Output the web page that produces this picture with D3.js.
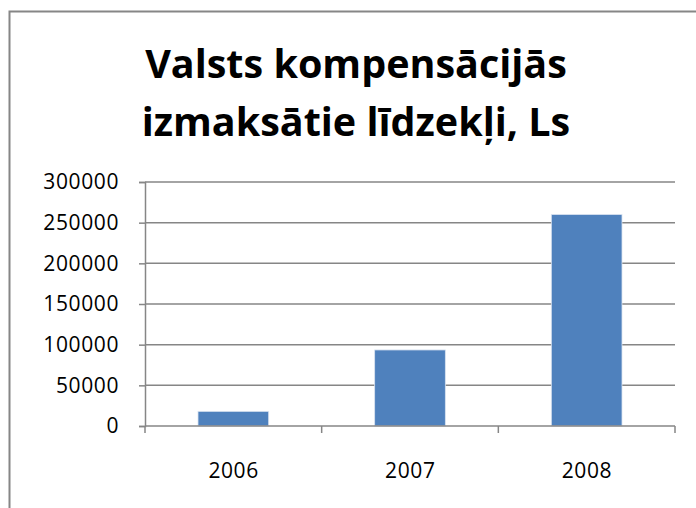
<!DOCTYPE html>
<html>
<head>
<meta charset="utf-8">
<script src="https://cdn.jsdelivr.net/npm/d3@7"></script>
<style>
  body { margin: 0; background: #fff; }
  svg { display: block; }
</style>
</head>
<body>
<div id="chart"></div>
<script>
// chart data
var titleLines = ["Valsts kompensācijās", "izmaksātie līdzekļi, Ls"];
var years = ["2006", "2007", "2008"];
var amounts = [18000, 93500, 260000];
var yTicks = [0, 50000, 100000, 150000, 200000, 250000, 300000];

var W = 696, H = 508;
var margin = {top: 182, right: 21, bottom: 82, left: 145};
var width = W - margin.left - margin.right,
    height = H - margin.top - margin.bottom;

var grey = "#868686";
var labelFont = "'Open Sans', sans-serif";

var svg = d3.select("#chart").append("svg")
    .attr("width", W)
    .attr("height", H);

// outer frame (runs off the right and bottom edge like the source)
svg.append("rect")
    .attr("x", 9.5)
    .attr("y", 11.5)
    .attr("width", W + 20)
    .attr("height", H + 20)
    .attr("fill", "none")
    .attr("stroke", grey)
    .attr("stroke-width", 2);

svg.append("g")
    .attr("class", "title")
  .selectAll("text")
    .data(titleLines)
  .enter().append("text")
    .attr("x", 356)
    .attr("y", (d, i) => 78 + i * 58)
    .attr("text-anchor", "middle")
    .attr("font-family", labelFont)
    .attr("font-weight", "bold")
    .attr("font-size", 39.5)
    .attr("fill", "#000")
    .text(d => d);

var g = svg.append("g")
    .attr("transform", `translate(${margin.left},${margin.top})`);

var x = d3.scaleBand()
    .domain(years)
    .range([0, width])
    .paddingInner(0.6)
    .paddingOuter(0.3);

var y = d3.scaleLinear()
    .domain([0, 300000])
    .range([height, 0]);

// gridlines
g.append("g")
    .attr("class", "grid")
  .selectAll("line")
    .data(yTicks.slice(1))
  .enter().append("line")
    .attr("x1", 0)
    .attr("x2", width)
    .attr("y1", d => y(d))
    .attr("y2", d => y(d))
    .attr("stroke", grey)
    .attr("stroke-width", 1.5);

g.selectAll(".bar")
    .data(years)
  .enter().append("rect")
    .attr("class", "bar")
    .attr("x", d => x(d))
    .attr("width", x.bandwidth())
    .attr("y", (d, i) => y(amounts[i]))
    .attr("height", (d, i) => height - y(amounts[i]))
    .attr("fill", "#4F81BD")
    .attr("stroke", "#D9E3F0")
    .attr("stroke-width", 0.8);

var yAxis = d3.axisLeft(y)
    .tickValues(yTicks)
    .tickFormat(d3.format("d"))
    .tickSize(6)
    .tickPadding(20);

var yG = g.append("g")
    .attr("class", "yAxis")
    .call(yAxis);

// x axis ticks sit on the category boundaries
var catStep = width / years.length;
var xG = g.append("g")
    .attr("class", "xAxis")
    .attr("transform", `translate(0,${height})`);

xG.append("line")
    .attr("x1", 0).attr("x2", width)
    .attr("stroke", grey).attr("stroke-width", 1.5);

xG.selectAll(".xtick")
    .data(d3.range(years.length + 1))
  .enter().append("line")
    .attr("class", "xtick")
    .attr("x1", i => i * catStep)
    .attr("x2", i => i * catStep)
    .attr("y1", 0)
    .attr("y2", 7)
    .attr("stroke", grey)
    .attr("stroke-width", 1.5);

xG.selectAll(".xlabel")
    .data(years)
  .enter().append("text")
    .attr("class", "xlabel")
    .attr("x", d => x(d) + x.bandwidth() / 2 + 0.3)
    .attr("y", 52)
    .attr("text-anchor", "middle")
    .attr("font-family", labelFont)
    .attr("font-size", 21)
    .attr("letter-spacing", 0.6)
    .attr("fill", "#000")
    .text(d => d);

yG.select(".domain")
    .attr("stroke", grey)
    .attr("stroke-width", 1.5);
yG.selectAll(".tick line")
    .attr("stroke", grey)
    .attr("stroke-width", 1.5);
yG.selectAll(".tick text")
    .attr("font-family", labelFont)
    .attr("font-size", 21)
    .attr("letter-spacing", 0.6)
    .attr("fill", "#000");
</script>
</body>
</html>
